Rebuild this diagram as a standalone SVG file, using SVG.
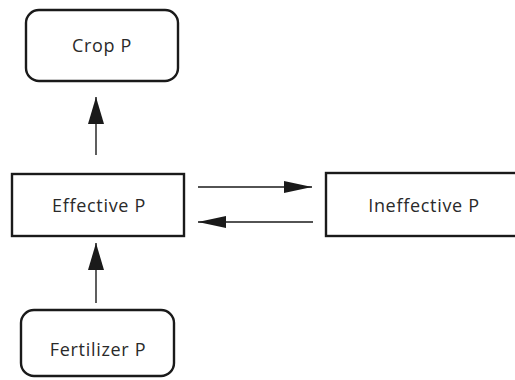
<svg xmlns="http://www.w3.org/2000/svg" width="515" height="380" viewBox="0 0 515 380">
  <style>
    .box { fill: #ffffff; stroke: #1a1a1a; stroke-width: 2.4; }
    .lbl { font-family: "Open Sans", "Liberation Sans", sans-serif; font-size: 18px; fill: #2a2a2a; text-anchor: middle; letter-spacing: 0.7px; }
    .conn { stroke: #1a1a1a; stroke-width: 1.4; fill: none; }
  </style>
  <defs>
    <marker id="headV" markerUnits="userSpaceOnUse" viewBox="0 0 27 16" refX="27" refY="8" markerWidth="27" markerHeight="16" orient="auto">
      <path d="M0,0 L27,8 L0,16 z" fill="#1a1a1a"/>
    </marker>
    <marker id="headH" markerUnits="userSpaceOnUse" viewBox="0 0 28 12" refX="28" refY="6" markerWidth="28" markerHeight="12" orient="auto">
      <path d="M0,0 L28,6 L0,12 z" fill="#1a1a1a"/>
    </marker>
  </defs>
  <rect width="515" height="380" fill="#ffffff"/>

  <g id="crop">
    <rect class="box" x="26" y="10" width="152" height="71" rx="13"/>
    <text class="lbl" x="102" y="52">Crop P</text>
  </g>
  <g id="effective">
    <rect class="box" x="12" y="174" width="172" height="62"/>
    <text class="lbl" x="99" y="212">Effective P</text>
  </g>
  <g id="ineffective">
    <rect class="box" x="326" y="173" width="200" height="63"/>
    <text class="lbl" x="424" y="212">Ineffective P</text>
  </g>
  <g id="fertilizer">
    <rect class="box" x="21" y="310" width="153" height="66" rx="13"/>
    <text class="lbl" x="98" y="356">Fertilizer P</text>
  </g>

  <g id="connectors">
    <line class="conn" x1="96" y1="155" x2="96" y2="97" marker-end="url(#headV)"/>
    <line class="conn" x1="96" y1="303" x2="96" y2="243" marker-end="url(#headV)"/>
    <line class="conn" x1="198" y1="187" x2="312" y2="187" marker-end="url(#headH)"/>
    <line class="conn" x1="313" y1="222" x2="198" y2="222" marker-end="url(#headH)"/>
  </g>
</svg>
